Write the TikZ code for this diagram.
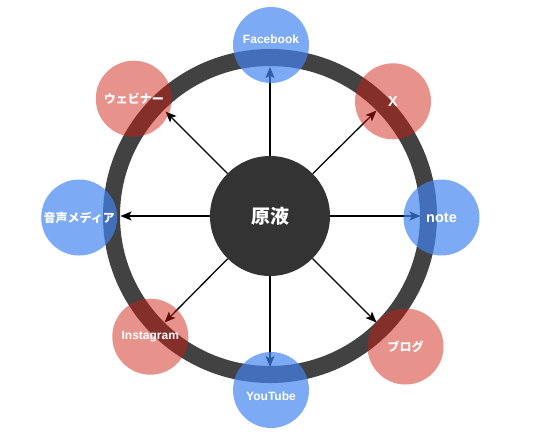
\documentclass[tikz,border=0pt]{standalone}
\usepackage{fontspec}
\setmainfont{Liberation Sans}
\newfontfamily\jp{Noto Sans CJK JP}
\usetikzlibrary{arrows.meta,calc}
\definecolor{ringc}{RGB}{66,66,66}
\definecolor{hubc}{RGB}{51,51,51}
\definecolor{bluec}{RGB}{68,132,240}
\definecolor{redc}{RGB}{208,28,16}
\begin{document}
\begin{tikzpicture}[x=1pt,y=-1pt,
  latinfont/.style={font=\bfseries\fontsize{12}{14}\selectfont},
  bigfont/.style={font=\bfseries\fontsize{14.5}{16}\selectfont},
  jpfont/.style={font=\jp\bfseries\fontsize{12}{14}\selectfont},
  sat/.style={circle,minimum size=76pt,inner sep=0pt,text=white,text opacity=1},
  bluesat/.style={sat,fill=bluec,fill opacity=0.69},
  redsat/.style={sat,fill=redc,fill opacity=0.48},
  hub/.style={circle,minimum size=120pt,inner sep=0pt,fill=hubc,text=white,font=\jp\bfseries\fontsize{19}{21}\selectfont},
  link/.style={draw=black,line width=1.3pt,-{Stealth[length=11pt,width=9pt,inset=2.5pt]}},
  ringstyle/.style={draw=ringc,line width=17pt},
]
\fill[white] (0,0) rectangle (534,440);
\useasboundingbox (0,0) rectangle (534,440);

\coordinate (o) at (270,216);
\draw[ringstyle] (o) circle[radius=158.5pt];

% arrow end points on the inner edge of the ring
\coordinate (tfb) at (270,67);
\coordinate (tx) at (376.5,110.5);
\coordinate (tnote) at (420.5,216);
\coordinate (tblog) at (376.5,322.5);
\coordinate (tyt) at (270,367);
\coordinate (tig) at (164.5,322.5);
\coordinate (tvoice) at (120.5,216);
\coordinate (tweb) at (165.5,111.5);

\node[hub] (c) at (o) {原液};

\foreach \t in {tfb,tx,tnote,tblog,tyt,tig,tvoice,tweb}
  \draw[link] (c) -- (\t);

\node[bluesat,latinfont] (fb) at (271,45) {};
\node[latinfont,text=white] (fbt) at (271,39.5) {Facebook};
\node[redsat,bigfont] (x) at (393,101.3) {X};
\node[bluesat,bigfont] (note) at (441.5,217.5) {note};
\node[redsat,jpfont] (blog) at (405.5,346.5) {ブログ};
\node[bluesat] (yt) at (271,390) {};
\node[latinfont,text=white] (ytt) at (271,396) {YouTube};
\node[redsat,latinfont] (ig) at (150.3,336.7) {Instagram};
\node[bluesat,jpfont] (voice) at (79.2,217.5) {音声メディア};
\node[redsat,jpfont] (web) at (133.8,98.7) {ウェビナー};
\end{tikzpicture}
\end{document}
